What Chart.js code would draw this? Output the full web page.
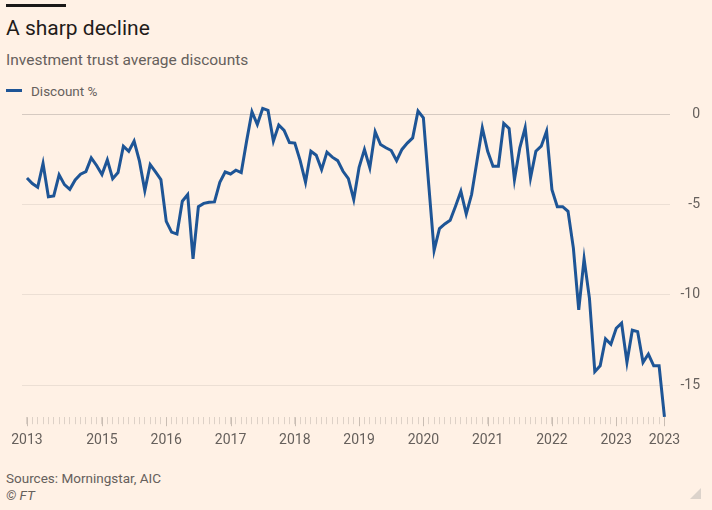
<!DOCTYPE html>
<html>
<head>
<meta charset="utf-8">
<script src="https://cdn.jsdelivr.net/npm/chart.js@4/dist/chart.umd.min.js"></script>
<style>
  html, body { margin: 0; padding: 0; }
  body { width: 712px; height: 510px; background: #FFF1E5; position: relative; overflow: hidden; font-family: Roboto, sans-serif; }
  .bar { position: absolute; left: 6px; top: 4px; width: 60px; height: 3px; background: #1a1817; }
  .txt { position: absolute; left: 6px; line-height: 1; white-space: nowrap; }
  #title { top: 18px; font-size: 21px; color: #1f1c1a; }
  #subtitle { top: 53px; font-size: 15.5px; color: #66605c; }
  #legend { top: 85px; left: 6px; font-size: 13.5px; color: #66605c; }
  #legend i { display: inline-block; width: 16px; height: 3px; background: #1e5596; vertical-align: middle; margin-right: 9px; position: relative; top: -2px; }
  #source { top: 472px; font-size: 13.5px; color: #66605c; }
  #copy { top: 489px; font-size: 13.5px; color: #66605c; font-style: italic; }
  .wrap { position: absolute; left: 0; top: 92px; width: 712px; height: 377px; }
  .grip { position: absolute; right: 11px; bottom: 11px; width: 0; height: 0; border-left: 11px solid transparent; border-bottom: 11px solid #dcd3cb; }
</style>
</head>
<body>
<div class="bar"></div>
<div class="txt" id="title">A sharp decline</div>
<div class="txt" id="subtitle">Investment trust average discounts</div>
<div class="txt" id="legend"><i></i>Discount %</div>
<div class="wrap"><canvas id="chart"></canvas></div>
<div class="txt" id="source">Sources: Morningstar, AIC</div>
<div class="txt" id="copy">© FT</div>
<div class="grip"></div>

<script>
// ── Investment trust discounts ──
// Monthly average discount, one value per month (oldest first)

const discount = [
  -3.52, -3.83, -4.04, -2.72, -4.56, -4.52, -3.35, -3.89, -4.15, -3.63, -3.31, -3.17,
  -2.41, -2.83, -3.33, -2.52, -3.56, -3.22, -1.76, -2.04, -1.48, -2.59, -4.22, -2.78,
  -3.19, -3.61, -5.93, -6.52, -6.63, -4.81, -4.44, -8.00, -5.11, -4.93, -4.87, -4.85,
  -3.76, -3.19, -3.30, -3.09, -3.22, -1.48, 0.15, -0.56, 0.33, 0.22, -1.48, -0.59,
  -0.89, -1.56, -1.59, -2.56, -3.76, -2.04, -2.26, -3.06, -2.09, -2.37, -2.56, -3.15,
  -3.56, -4.72, -2.93, -1.94, -2.96, -0.96, -1.67, -1.85, -2.00, -2.56, -1.94, -1.59,
  -1.30, 0.19, -0.19, -3.90, -7.54, -6.33, -6.07, -5.87, -5.09, -4.26, -5.52, -4.44,
  -2.59, -0.74, -2.04, -2.87, -2.87, -0.50, -0.78, -3.61, -1.85, -0.74, -3.52, -2.04,
  -1.76, -0.93, -4.17, -5.11, -5.11, -5.37, -7.41, -10.83, -8.00, -10.19, -14.26, -13.93,
  -12.44, -12.74, -11.85, -11.57, -13.74, -11.96, -12.04, -13.74, -13.28, -13.93, -13.93, -16.76
];

// x tick labels, as printed on the original axis
const yearTickIndex = [0, 14, 26, 38, 50, 62, 74, 86, 98, 110, 119];
const yearTickLabels = ['2013', '2015', '2016', '2017', '2018', '2019', '2020', '2021', '2022', '2023', '2023'];
const yTicks = [0, -5, -10, -15];

const points = discount.map((v, i) => ({ x: i, y: v }));
const labelAt = {};
yearTickIndex.forEach((idx, k) => { labelAt[idx] = yearTickLabels[k]; });

const FONT = 'Roboto';
const GREY = '#66605c';

// longer, darker tick marks at labelled positions
const majorTicks = {
  id: 'majorTicks',
  afterDraw(chart) {
    const x = chart.scales.x;
    const ctx = chart.ctx;
    const top = chart.chartArea.bottom;
    ctx.save();
    ctx.strokeStyle = '#c9bdb3';
    ctx.lineWidth = 1;
    yearTickIndex.forEach(idx => {
      const px = Math.round(x.getPixelForValue(idx)) + 0.5;
      ctx.beginPath();
      ctx.moveTo(px, top);
      ctx.lineTo(px, top + 9);
      ctx.stroke();
    });
    ctx.restore();
  }
};

new Chart(document.getElementById('chart'), {
  type: 'line',
  data: {
    datasets: [{
      label: 'Discount %',
      data: points,
      borderColor: '#1e5596',
      backgroundColor: '#1e5596',
      borderWidth: 3,
      pointRadius: 0,
      tension: 0,
      fill: false
    }]
  },
  options: {
    responsive: true,
    maintainAspectRatio: false,
    animation: false,
    layout: { padding: { top: 10, left: 22, right: 12, bottom: 12 } },
    plugins: {
      legend: { display: false },
      tooltip: { enabled: false }
    },
    scales: {
      x: {
        type: 'linear',
        min: -0.927,
        max: 120.11,
        afterBuildTicks: axis => { axis.ticks = discount.map((_, i) => ({ value: i })); },
        ticks: {
          autoSkip: false,
          maxRotation: 0,
          padding: 8,
          color: GREY,
          font: { size: 14, family: FONT },
          callback: v => labelAt[v] || ''
        },
        grid: {
          drawOnChartArea: false,
          drawTicks: true,
          tickLength: 7,
          tickColor: '#ddd1c7'
        },
        border: { display: false }
      },
      y: {
        position: 'right',
        min: -16.78,
        max: 0.5,
        afterBuildTicks: axis => { axis.ticks = yTicks.map(v => ({ value: v })); },
        ticks: {
          padding: 5,
          crossAlign: 'far',
          color: GREY,
          font: { size: 14, family: FONT },
          callback: v => String(v)
        },
        grid: {
          drawTicks: false,
          color: c => c.tick && c.tick.value === 0 ? '#d6cac1' : '#ecdfd4'
        },
        border: { display: false }
      }
    }
  },
  plugins: [majorTicks]
});
</script>
</body>
</html>
